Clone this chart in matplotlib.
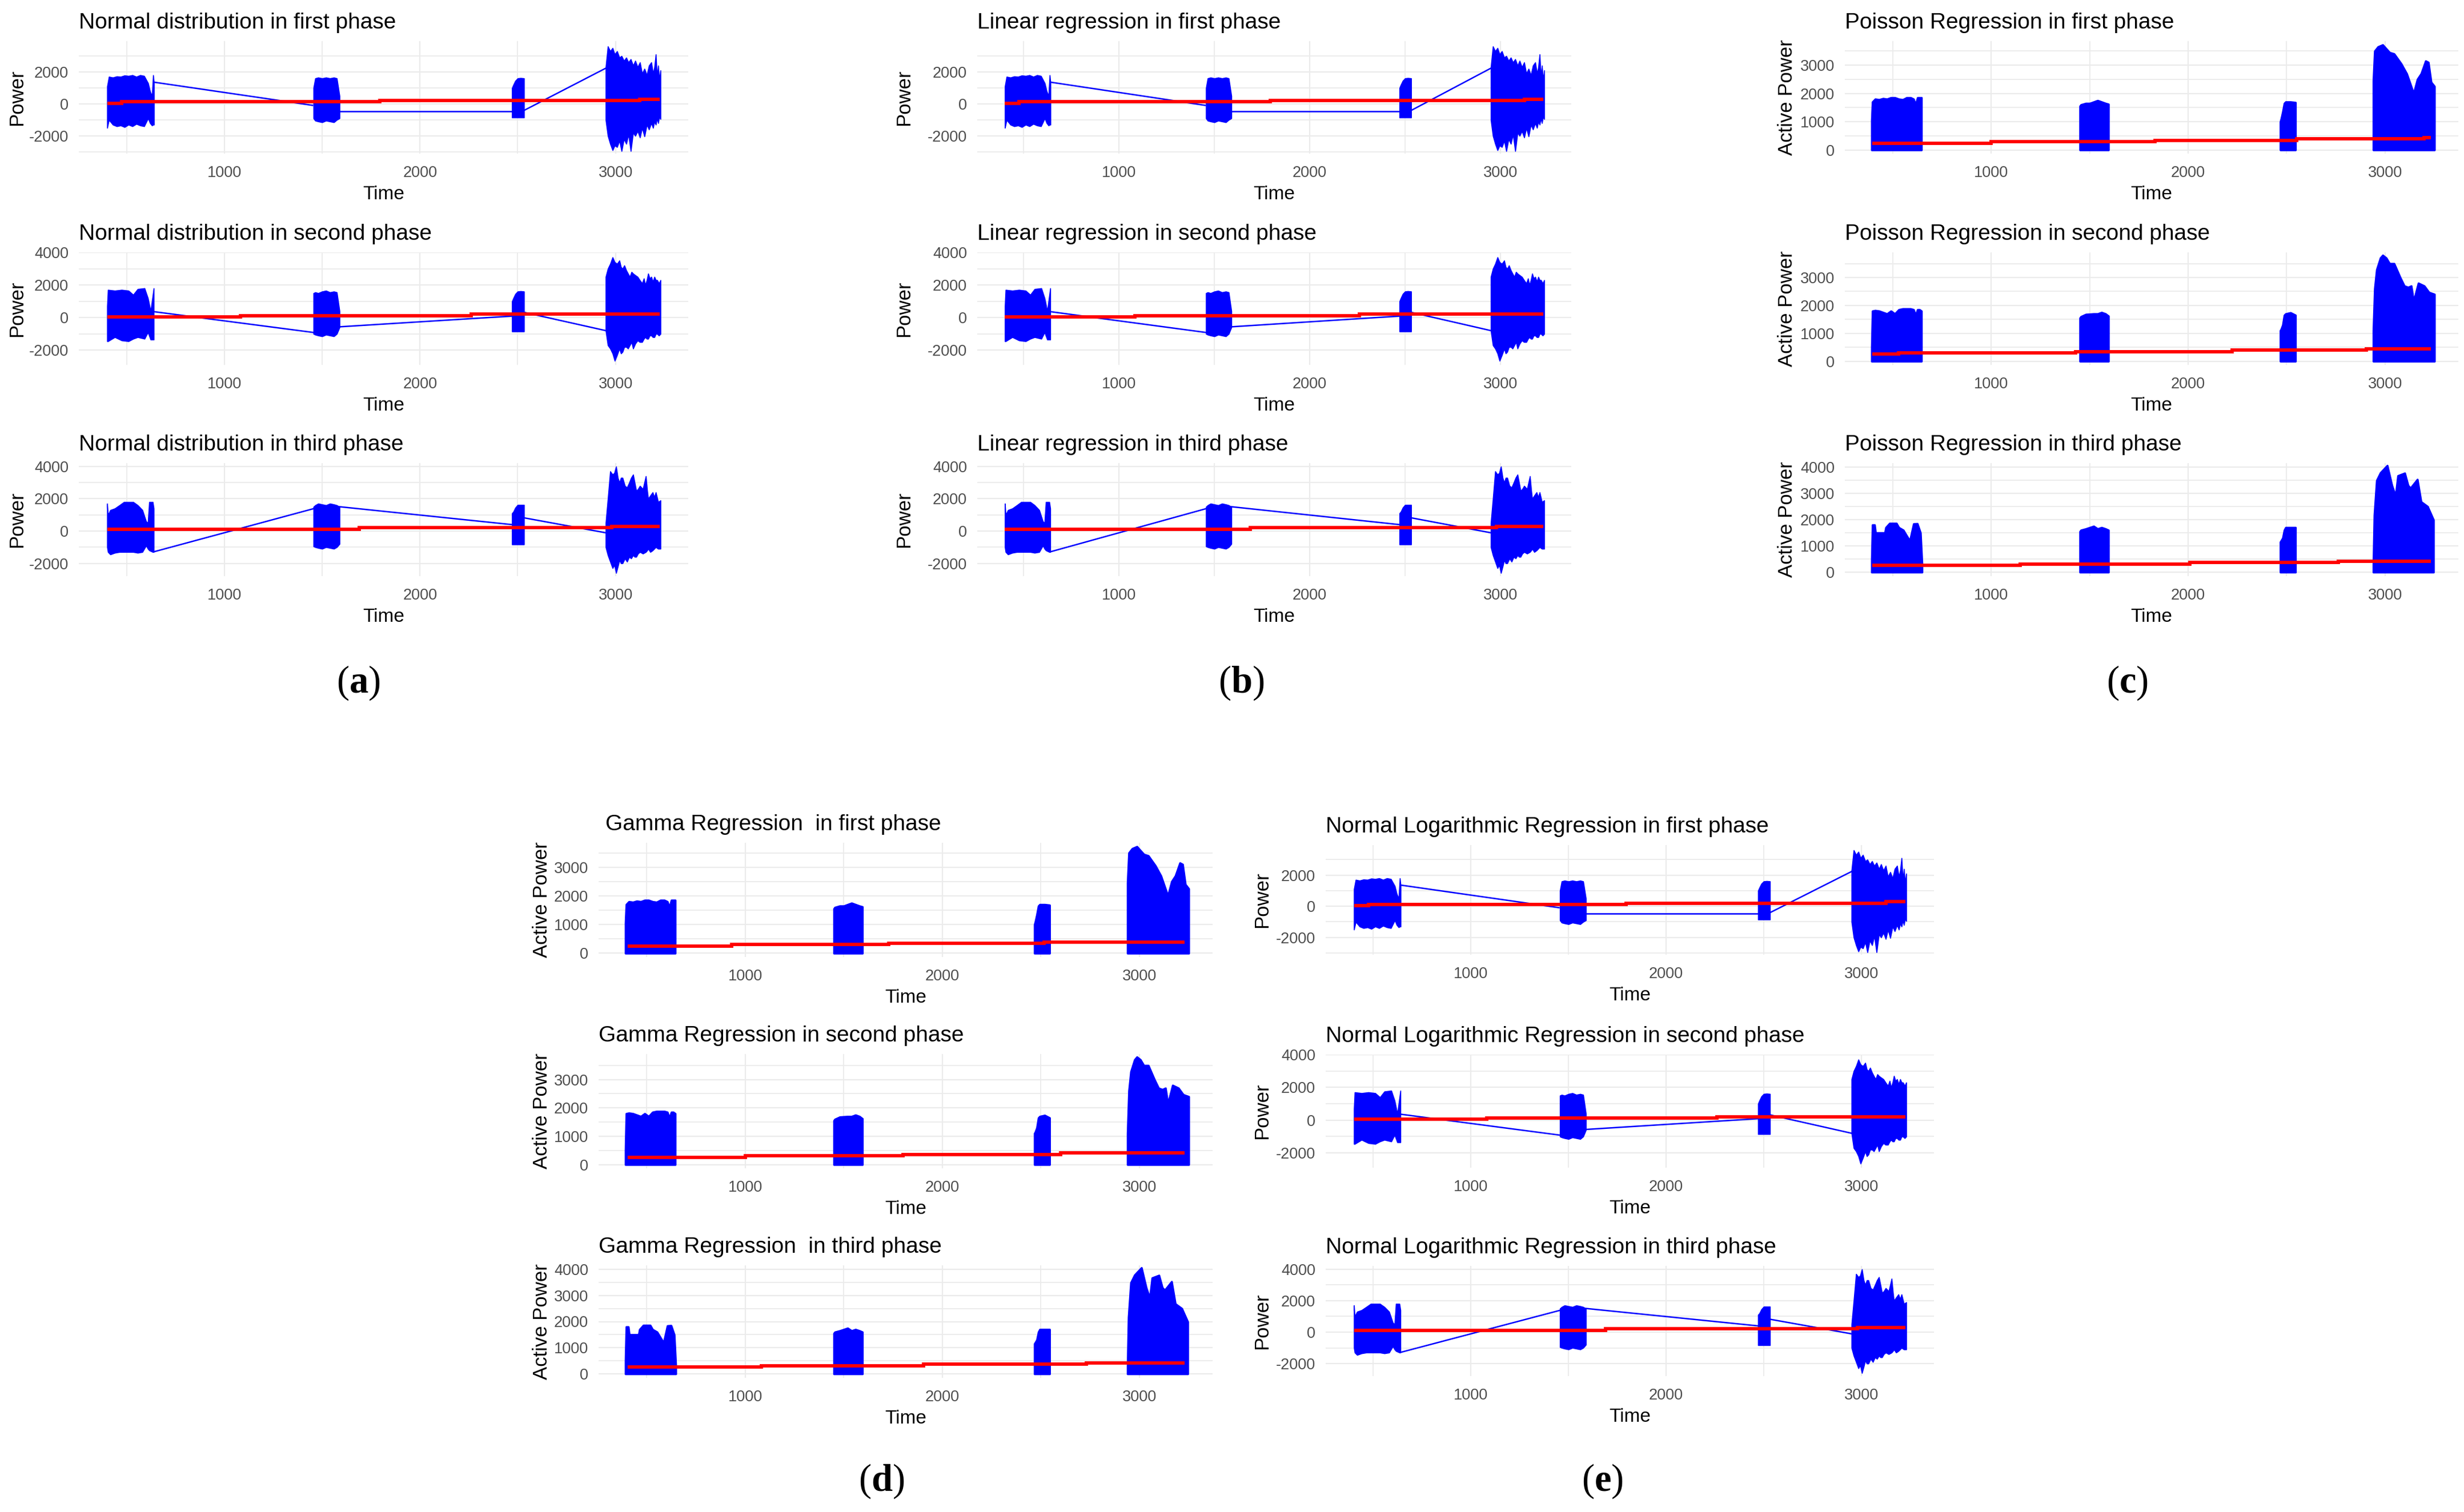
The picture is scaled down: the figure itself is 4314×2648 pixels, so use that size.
import numpy as np
import matplotlib
matplotlib.use('Agg')
import matplotlib.pyplot as plt

plt.rcParams['font.family'] = ['Liberation Sans', 'DejaVu Sans']
plt.rcParams['axes.unicode_minus'] = False
plt.rcParams['mathtext.fontset'] = 'custom'
plt.rcParams['mathtext.rm'] = 'Liberation Serif'
plt.rcParams['mathtext.bf'] = 'Liberation Serif:bold'

# ---------------- DATA ----------------
# Signed "Power" series (Normal / Linear / Normal Logarithmic panels)
# each burst: time points, upper envelope, lower envelope
s1_burst_t = [
    [401, 410, 430, 450, 470, 490, 510, 530, 550, 570, 590, 610, 620, 630, 636, 640],
    [1456, 1465, 1480, 1500, 1520, 1540, 1560, 1575, 1589],
    [2471, 2478, 2488, 2500, 2515, 2532],
    [2950, 2961, 2973, 2985, 2996, 3008, 3020, 3031, 3043, 3055, 3066, 3078, 3090, 3101, 3113, 3125,
     3136, 3148, 3160, 3171, 3183, 3192, 3199, 3206, 3212, 3218, 3224, 3230],
]
s1_burst_hi = [
    [1100, 1700, 1650, 1720, 1700, 1780, 1750, 1800, 1700, 1800, 1750, 1300, 800, 500, 1800, 1350],
    [1000, 1600, 1650, 1600, 1650, 1600, 1650, 1600, 500],
    [1000, 1200, 1450, 1600, 1620, 1600],
    [2300, 3600, 3300, 3500, 3100, 3300, 2900, 3000, 2700, 2900, 2600, 2800, 2400, 2700, 2300, 2600,
     1900, 2200, 1800, 2400, 2600, 1900, 2300, 3100, 1700, 2400, 1500, 2100],
]
s1_burst_lo = [
    [-1500, -1000, -1300, -1400, -1350, -1450, -1300, -1400, -1250, -1350, -1400, -900, -1200, -1350, -1300, -1300],
    [-900, -1050, -1100, -1150, -1050, -1100, -1150, -1000, -900],
    [-850, -850, -850, -850, -850, -850],
    [-1000, -2000, -2500, -2900, -2600, -2700, -2300, -2950, -2200, -2500, -1900, -2950, -1800, -2000, -1700,
     -2100, -1500, -2034, -1300, -1600, -1200, -1500, -1100, -1300, -900, -1200, -800, -950],
]
s1_link_t = [[643, 1451], [1589, 2471], [2532, 2950]]
s1_link_v = [[1355, -90], [-470, -470], [-410, 2233]]

s2_burst_t = [
    [401, 405, 440, 475, 510, 534, 557, 592, 609, 623, 639],
    [1456, 1465, 1480, 1500, 1520, 1540, 1560, 1575, 1589],
    [2471, 2478, 2488, 2500, 2515, 2532],
    [2950, 2961, 2973, 2985, 2996, 3008, 3020, 3028, 3036, 3045, 3055, 3064, 3073, 3082, 3090, 3101,
     3113, 3124, 3136, 3145, 3152, 3160, 3167, 3175, 3183, 3191, 3199, 3206, 3213, 3222, 3230],
]
s2_burst_hi = [
    [700, 1700, 1650, 1700, 1650, 1400, 1750, 1800, 1200, 400, 1800],
    [1500, 1550, 1500, 1600, 1650, 1550, 1600, 1550, 400],
    [1000, 1200, 1450, 1600, 1620, 1600],
    [2500, 3000, 3300, 3700, 3400, 3300, 3500, 3100, 3000, 3200, 2900, 2700, 2500, 2800, 2700, 2600,
     2500, 2300, 2100, 2400, 2000, 2300, 2700, 2400, 2500, 2200, 2500, 2300, 2300, 2100, 2300],
]
s2_burst_lo = [
    [-1450, -1450, -1200, -1400, -1450, -1300, -1200, -1300, -900, -1350, -1350],
    [-1000, -1050, -1100, -1150, -1050, -1100, -1150, -1000, -600],
    [-850, -850, -850, -850, -850, -850],
    [-800, -1700, -1900, -2200, -2650, -2300, -1900, -2200, -2100, -1800, -1800, -1900, -1700, -1500, -1900,
     -1600, -1400, -1500, -1500, -1300, -1200, -1300, -1300, -1100, -1100, -1200, -1200, -1000, -1000, -1100, -1000],
]
s2_link_t = [[643, 1456], [1589, 2471], [2532, 2950]]
s2_link_v = [[358, -913], [-566, 92], [324, -798]]

s3_burst_t = [
    [401, 405, 417, 440, 464, 487, 510, 534, 557, 581, 600, 609, 616, 634, 639],
    [1456, 1465, 1480, 1500, 1520, 1540, 1560, 1575, 1589],
    [2471, 2478, 2488, 2500, 2515, 2532],
    [2950, 2961, 2973, 2985, 2994, 3003, 3012, 3020, 3028, 3036, 3048, 3059, 3070, 3080, 3090, 3098,
     3106, 3115, 3125, 3140, 3155, 3162, 3167, 3178, 3190, 3198, 3206, 3218, 3230],
]
s3_burst_hi = [
    [1700, 1000, 1300, 1400, 1600, 1800, 1800, 1800, 1600, 1300, 600, 500, 1800, 1800, 1400],
    [1500, 1600, 1700, 1650, 1600, 1700, 1650, 1600, 1500],
    [1100, 1200, 1450, 1620, 1620, 1620],
    [500, 2000, 3700, 3500, 3600, 4000, 3300, 3000, 3300, 3300, 2800, 2700, 3000, 3300, 3500, 3000,
     2500, 2600, 2800, 2600, 3400, 2500, 2000, 2200, 2400, 2100, 2400, 1800, 1900],
]
s3_burst_lo = [
    [-1000, -1300, -1450, -1350, -1300, -1300, -1300, -1300, -1350, -1300, -900, -1100, -1200, -1300, -1300],
    [-950, -1000, -1050, -1100, -1000, -1050, -1100, -1000, -800],
    [-830, -830, -830, -830, -830, -830],
    [-1000, -1500, -1900, -2300, -2100, -2600, -2200, -1800, -2000, -2000, -1700, -1900, -1600, -1700, -1500,
     -1600, -1600, -1400, -1300, -1400, -1300, -1200, -1100, -1300, -1200, -1100, -1000, -1100, -1100],
]
s3_link_t = [[639, 1456], [1589, 2471], [2532, 2950]]
s3_link_v = [[-1289, 1386], [1506, 398], [819, -108]]

# fitted (red) step lines for Normal / Linear / Normal-log models
s1_fit_t = [401, 476, 1794, 3125, 3225]
s1_fit_v = [33, 130, 200, 285]
s2_fit_t = [401, 1082, 2261, 3225]
s2_fit_v = [46, 127, 208]
s3_fit_t = [401, 1689, 2980, 3225]
s3_fit_v = [120, 205, 277]

# Active power series (Poisson / Gamma panels): time and upper envelope (from 0)
a1_burst_t = [
    [392, 396, 410, 430, 450, 470, 490, 510, 530, 550, 570, 590, 605, 615, 625, 635, 645],
    [1450, 1455, 1480, 1500, 1520, 1540, 1560, 1580, 1595],
    [2468, 2472, 2480, 2488, 2495, 2520, 2545],
    [2940, 2947, 2964, 2988, 3023, 3046, 3082, 3110, 3145, 3164, 3183, 3206, 3220, 3234, 3251],
]
a1_burst_hi = [
    [1050, 1700, 1800, 1780, 1820, 1800, 1850, 1850, 1800, 1780, 1850, 1850, 1800, 1600, 1850, 1850, 1850],
    [1550, 1600, 1650, 1650, 1700, 1750, 1700, 1650, 1620],
    [1000, 1100, 1350, 1650, 1700, 1700, 1680],
    [2450, 3500, 3650, 3720, 3450, 3400, 3050, 2700, 2000, 2500, 2700, 3150, 3100, 2400, 2250],
]
a2_burst_t = [
    [392, 396, 410, 430, 450, 470, 490, 510, 530, 550, 570, 590, 605, 615, 625, 635, 645],
    [1450, 1455, 1480, 1500, 1520, 1540, 1560, 1580, 1595],
    [2468, 2472, 2480, 2488, 2495, 2520, 2545],
    [2940, 2947, 2957, 2976, 2988, 3006, 3023, 3046, 3077, 3098, 3117, 3133, 3145, 3169, 3199, 3223, 3251],
]
a2_burst_hi = [
    [500, 1800, 1820, 1800, 1750, 1700, 1800, 1700, 1850, 1880, 1880, 1880, 1850, 1650, 1850, 1850, 1800],
    [1550, 1600, 1680, 1690, 1700, 1700, 1750, 1700, 1620],
    [1100, 1150, 1300, 1650, 1700, 1740, 1650],
    [1100, 2600, 3280, 3700, 3800, 3700, 3500, 3500, 3000, 2700, 2650, 2700, 2150, 2800, 2700, 2470, 2400],
]
a3_burst_t = [
    [392, 396, 407, 412, 459, 464, 483, 518, 530, 553, 577, 586, 605, 624, 640, 648],
    [1450, 1455, 1480, 1500, 1520, 1540, 1560, 1580, 1595],
    [2468, 2472, 2480, 2488, 2495, 2520, 2545],
    [2940, 2945, 2957, 2976, 3011, 3035, 3053, 3065, 3100, 3117, 3129, 3164, 3183, 3216, 3246],
]
a3_burst_hi = [
    [500, 1800, 1800, 1500, 1500, 1700, 1860, 1860, 1700, 1600, 1300, 1200, 1840, 1850, 1500, 300],
    [1550, 1600, 1650, 1700, 1750, 1650, 1700, 1650, 1600],
    [1150, 1200, 1300, 1600, 1700, 1700, 1700],
    [300, 2170, 3490, 3780, 4060, 3300, 2900, 3670, 3770, 3300, 3200, 3530, 2680, 2500, 1990],
]

# Poisson fitted step lines
p1_fit_t = [396, 1000, 1830, 2552, 3199, 3234]
p1_fit_v = [242, 290, 338, 386, 435]
p2_fit_t = [396, 530, 1428, 2223, 2905, 3234]
p2_fit_v = [252, 300, 348, 396, 443]
p3_fit_t = [396, 1148, 2007, 2764, 3234]
p3_fit_v = [264, 315, 367, 418]
# Gamma fitted step lines
g1_fit_t = [405, 931, 1728, 2517, 3229]
g1_fit_v = [248, 302, 349, 389]
g2_fit_t = [405, 1000, 1800, 2600, 3229]
g2_fit_v = [255, 305, 355, 405]
g3_fit_t = [405, 1082, 1906, 2730, 3229]
g3_fit_v = [264, 316, 367, 411]

phase_names = ['first', 'second', 'third']
x_major = [1000, 2000, 3000]
x_minor = [500, 1500, 2500]
signed_yticks = [[-2000, 0, 2000], [-2000, 0, 2000, 4000], [-2000, 0, 2000, 4000]]
signed_yminor = [[-3000, -1000, 1000, 3000], [-1000, 1000, 3000], [-1000, 1000, 3000]]
signed_ylim = [(-3110, 3930), (-2900, 3966), (-2796, 4212)]
active_yticks = [[0, 1000, 2000, 3000], [0, 1000, 2000, 3000], [0, 1000, 2000, 3000, 4000]]
active_yminor = [[500, 1500, 2500, 3500], [500, 1500, 2500, 3500], [500, 1500, 2500, 3500]]
active_ylim = [(-130, 3850), (-130, 3900), (-150, 4150)]
x_lim = (256, 3372)

# ---------------- LAYOUT ----------------
W, H = 4314, 2648
fig = plt.figure(figsize=(W / 100, H / 100), dpi=100)

BLUE = '#0000FF'
RED = '#FF0000'
GRID = '#EBEBEB'
TICK = '#4D4D4D'


def rect(l, t, r, b):
    return [l / W, 1 - b / H, (r - l) / W, (b - t) / H]


def fx(x):
    return x / W


def fy(y):
    return 1 - y / H


cols = {
    'a': dict(x=(138, 1205), rows=[(72, 269), (442, 639), (811, 1009)], ylab_x=30),
    'b': dict(x=(1711, 2751), rows=[(72, 269), (442, 639), (811, 1009)], ylab_x=1583),
    'c': dict(x=(3230, 4304), rows=[(72, 269), (442, 639), (811, 1009)], ylab_x=3129),
    'd': dict(x=(1048, 2123), rows=[(1476, 1676), (1846, 2046), (2216, 2413)], ylab_x=948),
    'e': dict(x=(2321, 3386), rows=[(1480, 1672), (1847, 2045), (2217, 2410)], ylab_x=2210),
}

signed = [
    (s1_burst_t, s1_burst_hi, s1_burst_lo, s1_link_t, s1_link_v, s1_fit_t, s1_fit_v),
    (s2_burst_t, s2_burst_hi, s2_burst_lo, s2_link_t, s2_link_v, s2_fit_t, s2_fit_v),
    (s3_burst_t, s3_burst_hi, s3_burst_lo, s3_link_t, s3_link_v, s3_fit_t, s3_fit_v),
]
active = [(a1_burst_t, a1_burst_hi), (a2_burst_t, a2_burst_hi), (a3_burst_t, a3_burst_hi)]
poisson_fit = [(p1_fit_t, p1_fit_v), (p2_fit_t, p2_fit_v), (p3_fit_t, p3_fit_v)]
gamma_fit = [(g1_fit_t, g1_fit_v), (g2_fit_t, g2_fit_v), (g3_fit_t, g3_fit_v)]

titles = {
    'a': ['Normal distribution in %s phase' % p for p in phase_names],
    'b': ['Linear regression in %s phase' % p for p in phase_names],
    'c': ['Poisson Regression in %s phase' % p for p in phase_names],
    'd': ['Gamma Regression  in first phase', 'Gamma Regression in second phase',
          'Gamma Regression  in third phase'],
    'e': ['Normal Logarithmic Regression in %s phase' % p for p in phase_names],
}
ylabels = {'a': 'Power', 'b': 'Power', 'c': 'Active Power', 'd': 'Active Power', 'e': 'Power'}


def style_axes(ax, yt, ym, ylim):
    ax.set_xlim(*x_lim)
    ax.set_ylim(*ylim)
    ax.set_xticks(x_major)
    ax.set_xticks(x_minor, minor=True)
    ax.set_xticklabels([str(v) for v in x_major])
    ax.set_yticks(yt)
    ax.set_yticks(ym, minor=True)
    ax.set_yticklabels([str(v) for v in yt])
    ax.grid(which='major', color=GRID, lw=1.6, zorder=0)
    ax.grid(which='minor', color=GRID, lw=1.3, zorder=0)
    ax.set_axisbelow(True)
    for s in ax.spines.values():
        s.set_visible(False)
    ax.tick_params(which='both', length=0)
    ax.tick_params(axis='x', pad=15, labelsize=19.5, labelcolor=TICK)
    ax.tick_params(axis='y', pad=13, labelsize=19.5, labelcolor=TICK)


for key, spec in cols.items():
    l, r = spec['x']
    for i, (t, b) in enumerate(spec['rows']):
        ax = fig.add_axes(rect(l, t, r, b))
        if key in ('a', 'b', 'e'):
            bt, bhi, blo, lt, lv, ft, fv = signed[i]
            for tt, hi, lo in zip(bt, bhi, blo):
                ax.fill_between(tt, lo, hi, color=BLUE, edgecolor=BLUE, lw=1.2, zorder=2)
            for tt, vv in zip(lt, lv):
                ax.plot(tt, vv, color=BLUE, lw=1.8, zorder=2)
            ax.stairs(fv, ft, baseline=None, color=RED, lw=4.2, zorder=3)
            style_axes(ax, signed_yticks[i], signed_yminor[i], signed_ylim[i])
        else:
            bt, bhi = active[i]
            for tt, hi in zip(bt, bhi):
                ax.fill_between(tt, 0, hi, color=BLUE, edgecolor=BLUE, lw=2.5, zorder=2)
            ft, fv = poisson_fit[i] if key == 'c' else gamma_fit[i]
            ax.stairs(fv, ft, baseline=None, color=RED, lw=4.2, zorder=3)
            style_axes(ax, active_yticks[i], active_yminor[i], active_ylim[i])
        # title
        fig.text(fx(l + (12 if (key == 'd' and i == 0) else 0)), fy(t - 22), titles[key][i],
                 fontsize=28, ha='left', va='baseline', color='black')
        # y label
        fig.text(fx(spec['ylab_x']), fy((t + b) / 2), ylabels[key], rotation=90,
                 fontsize=25, ha='center', va='center', color='black')
        # x label
        fig.text(fx((l + r) / 2), fy(b + 56), 'Time', fontsize=24,
                 ha='center', va='top', color='black')

sub_labels = [('a', 627, 1196), ('b', 2173, 1196), ('c', 3725, 1196),
              ('d', 1543, 2594), ('e', 2806, 2594)]
for lab, x, y in sub_labels:
    fig.text(fx(x), fy(y), r'($\mathbf{%s}$)' % lab, fontsize=48,
             ha='center', va='center', family='Liberation Serif')

fig.savefig('out.png', dpi=100, facecolor='white')
